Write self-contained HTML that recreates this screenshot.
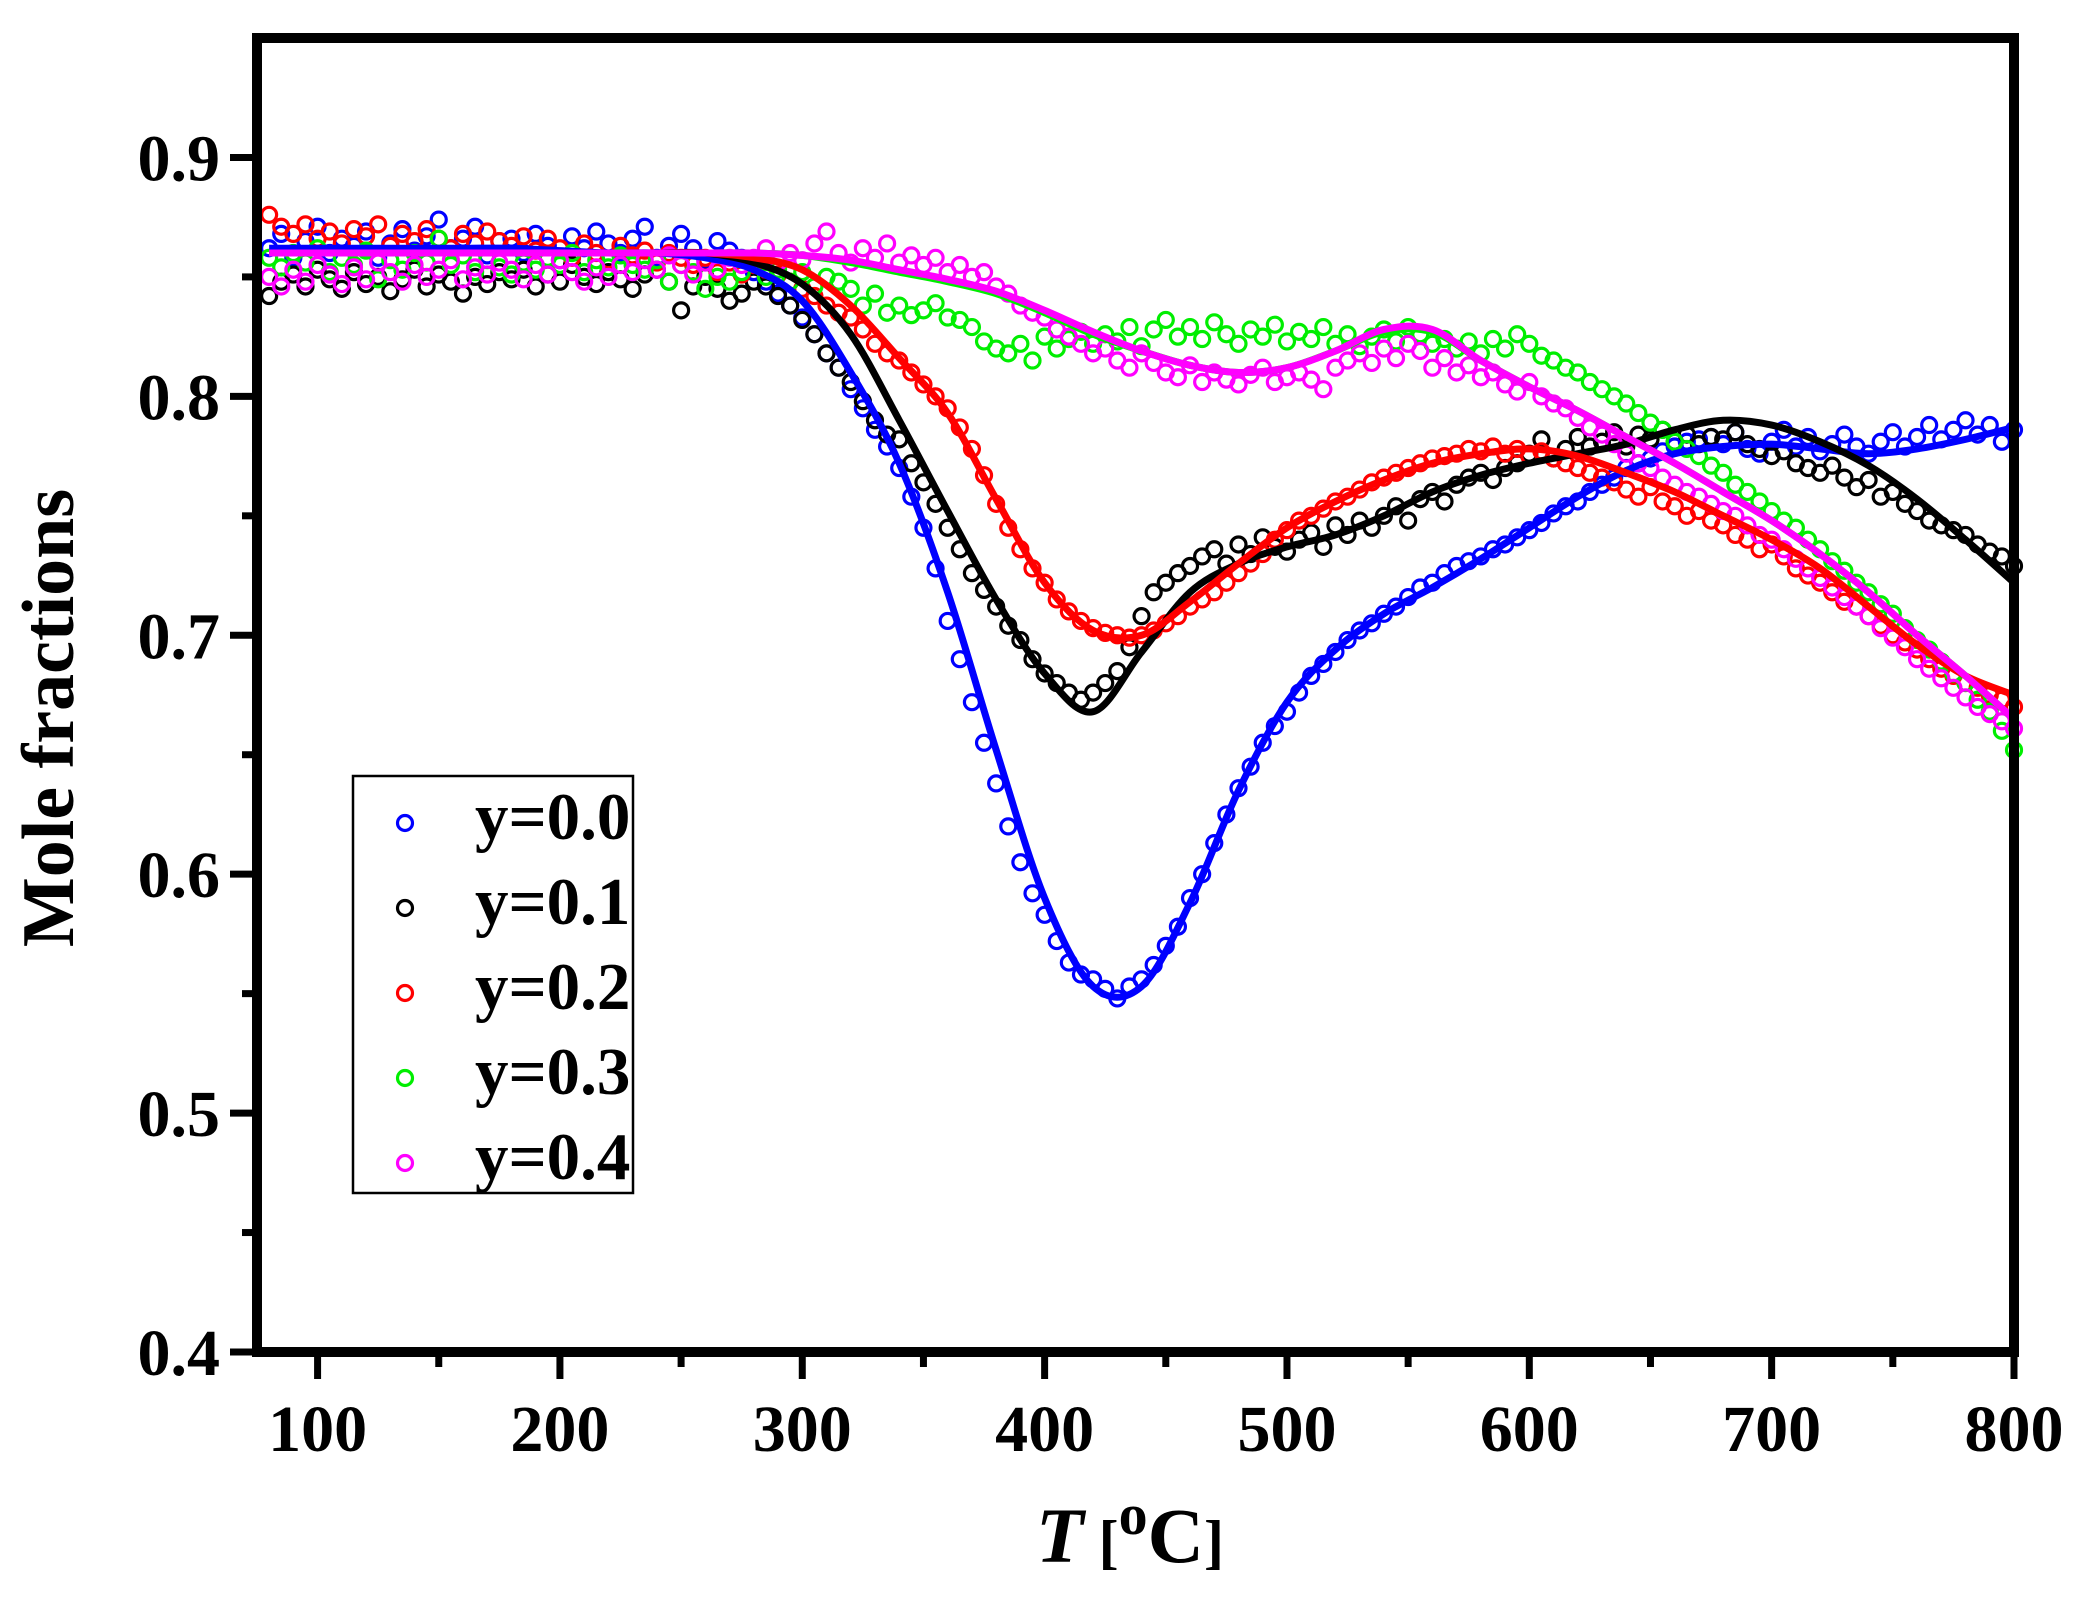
<!DOCTYPE html>
<html><head><meta charset="utf-8"><style>
html,body{margin:0;padding:0;background:#fff}
svg{display:block}
text{font-family:"Liberation Serif",serif;font-weight:bold;fill:#000}
</style></head><body>
<svg id="chart" width="2085" height="1612" viewBox="0 0 2085 1612">
<g id="scatters"></g>
<g id="lines"></g>
<g id="axes"></g>
<g id="legend"></g>
<text x="56" y="718" font-size="74" text-anchor="middle" dominant-baseline="middle" transform="rotate(-90 56 718)">Mole fractions</text>
<text x="1130" y="1562" font-size="78" text-anchor="middle"><tspan font-style="italic">T</tspan><tspan font-size="60"> [</tspan><tspan font-size="58" dy="-28">o</tspan><tspan dy="28">C</tspan><tspan font-size="60">]</tspan></text>
</svg>
<script>
const seriesNames = ["y=0.0","y=0.1","y=0.2","y=0.3","y=0.4"];
const seriesColors = ["#0000ff","#000000","#ff0000","#00ee00","#ff00ff"];
const xTicks = [100,200,300,400,500,600,700,800];
const yTicks = [0.4,0.5,0.6,0.7,0.8,0.9];
const yTickLabels = ["0.4","0.5","0.6","0.7","0.8","0.9"];
// scatter x: 80..800 step 5
const scatterStart = 80, scatterStep = 5;
const scatterBlue = [.862,.868,.858,.865,.871,.860,.866,.863,.869,.858,.864,.870,.861,.867,.874,.862,.866,.871,.859,.865,
.866,.860,.868,.863,.857,.867,.862,.869,.864,.860,.866,.871,.858,.863,.868,.862,.857,.865,.861,.858,
.852,.848,.843,.838,.833,.826,.818,.812,.803,.795,.786,.779,.770,.758,.745,.728,.706,.690,.672,.655,
.638,.620,.605,.592,.583,.572,.563,.558,.556,.552,.548,.553,.556,.562,.570,.578,.590,.600,.613,.625,
.636,.645,.655,.662,.668,.676,.683,.688,.693,.698,.702,.705,.709,.712,.716,.720,.722,.726,.729,.731,
.733,.736,.738,.741,.744,.747,.751,.754,.756,.760,.763,.766,.770,.772,.774,.777,.779,.781,.782,.783,
.780,.785,.778,.776,.781,.786,.779,.783,.777,.780,.784,.779,.776,.781,.785,.779,.783,.788,.782,.786,
.790,.784,.788,.781,.786];
const scatterBlack = [.842,.848,.851,.846,.853,.849,.845,.852,.847,.850,.844,.849,.853,.846,.851,.848,.843,.850,.847,.852,
.849,.853,.846,.851,.848,.855,.850,.847,.852,.849,.845,.851,.853,.848,.836,.846,.850,.845,.840,.843,
.848,.846,.842,.838,.832,.826,.818,.812,.806,.798,.790,.784,.782,.772,.764,.755,.745,.736,.726,.719,
.712,.704,.698,.690,.684,.680,.676,.673,.676,.680,.685,.695,.708,.718,.722,.726,.729,.733,.736,.730,
.738,.734,.741,.737,.735,.740,.743,.737,.746,.742,.748,.745,.750,.754,.748,.757,.760,.756,.763,.766,
.768,.765,.770,.772,.776,.782,.774,.778,.783,.779,.781,.785,.779,.784,.782,.786,.781,.784,.780,.783,
.782,.785,.780,.778,.775,.777,.772,.770,.768,.771,.766,.762,.765,.758,.760,.755,.752,.748,.746,.744,
.742,.738,.735,.733,.729];
const scatterRed = [.876,.871,.868,.872,.866,.869,.864,.870,.867,.872,.863,.868,.865,.870,.866,.862,.868,.864,.869,.865,
.863,.867,.861,.866,.862,.858,.864,.860,.857,.863,.859,.861,.856,.860,.858,.855,.858,.852,.856,.851,
.855,.853,.851,.848,.845,.842,.838,.835,.833,.828,.822,.818,.815,.810,.805,.800,.795,.787,.778,.767,
.755,.745,.736,.728,.722,.715,.710,.706,.703,.701,.700,.699,.700,.702,.705,.708,.712,.715,.718,.722,
.726,.730,.734,.740,.744,.748,.750,.753,.756,.758,.761,.764,.766,.768,.770,.772,.774,.775,.776,.778,
.777,.779,.776,.778,.775,.777,.774,.772,.770,.768,.766,.764,.761,.758,.762,.756,.754,.750,.752,.748,
.746,.742,.740,.736,.738,.733,.728,.725,.722,.718,.714,.712,.708,.704,.700,.697,.694,.690,.686,.683,
.680,.678,.675,.673,.670];
const scatterGreen = [.858,.854,.860,.856,.862,.852,.858,.855,.861,.849,.857,.853,.860,.856,.866,.855,.859,.852,.857,.854,
.851,.856,.853,.858,.855,.860,.852,.857,.854,.859,.855,.853,.857,.848,.855,.852,.845,.850,.848,.852,
.856,.850,.853,.848,.852,.846,.850,.848,.845,.838,.843,.835,.838,.834,.836,.839,.833,.832,.829,.823,
.820,.818,.822,.815,.825,.820,.824,.827,.822,.826,.823,.829,.821,.828,.832,.825,.829,.824,.831,.826,
.822,.828,.825,.830,.823,.827,.824,.829,.822,.826,.821,.825,.828,.823,.829,.826,.822,.824,.820,.823,
.818,.824,.820,.826,.822,.817,.815,.812,.810,.806,.803,.800,.797,.793,.789,.786,.781,.778,.775,.771,
.768,.763,.760,.756,.752,.748,.745,.740,.736,.731,.727,.722,.718,.713,.709,.703,.698,.694,.689,.684,
.680,.673,.668,.660,.652];
const scatterMagenta = [.850,.846,.853,.848,.855,.851,.847,.854,.849,.856,.852,.848,.855,.850,.853,.857,.849,.854,.851,.856,
.853,.849,.855,.851,.857,.852,.848,.854,.850,.855,.852,.857,.853,.859,.855,.851,.856,.853,.858,.855,
.858,.862,.856,.860,.857,.864,.869,.860,.856,.862,.858,.864,.856,.859,.855,.858,.852,.855,.850,.852,
.846,.843,.838,.835,.833,.828,.825,.822,.818,.820,.815,.812,.818,.814,.810,.808,.813,.806,.810,.807,
.805,.809,.812,.806,.808,.810,.807,.803,.812,.815,.818,.814,.820,.816,.822,.819,.812,.816,.810,.813,
.808,.810,.805,.802,.806,.800,.797,.795,.791,.787,.784,.780,.776,.772,.770,.766,.763,.760,.758,.755,
.752,.750,.746,.742,.740,.736,.732,.728,.724,.720,.716,.712,.708,.703,.699,.695,.690,.686,.682,.678,
.674,.670,.667,.664,.661];
// fit lines x: 80..800 step 20
const lineStart = 80, lineStep = 20;
const lineBlue = [.862,.862,.862,.862,.862,.862,.861,.860,.860,.858,.853,.840,.810,.772,.718,.652,.590,.553,.553,.588,.635,.672,.694,.709,.720,.732,.745,.758,.769,.776,.779,.780,.778,.776,.778,.782,.787];
const lineBlack = [.860,.860,.860,.860,.860,.860,.860,.860,.860,.860,.856,.847,.826,.790,.752,.715,.684,.668,.693,.718,.730,.737,.742,.750,.760,.767,.772,.776,.780,.786,.790,.788,.781,.771,.757,.740,.722];
const lineRed = [.860,.860,.860,.860,.860,.860,.860,.860,.860,.860,.858,.853,.838,.816,.793,.757,.722,.702,.700,.714,.730,.745,.756,.765,.772,.776,.778,.775,.768,.760,.750,.740,.728,.712,.696,.683,.675];
const lineGreen = [.860,.860,.860,.860,.860,.860,.860,.860,.860,.860,.860,.859,.856,.852,.848,.843,.835,.826,.819,.813,.810,.812,.819,.827,.827,.815,.804,.794,.783,.772,.760,.748,.734,.718,.700,.683,.665];
const lineMagenta = [.860,.860,.860,.860,.860,.860,.860,.860,.860,.860,.860,.859,.857,.853,.849,.844,.836,.827,.819,.813,.810,.812,.819,.828,.828,.815,.804,.794,.783,.772,.760,.748,.734,.718,.700,.683,.665];

const scatterData = [scatterBlue, scatterBlack, scatterRed, scatterGreen, scatterMagenta];
const lineData = [lineBlue, lineBlack, lineRed, lineGreen, lineMagenta];
const NS = "http://www.w3.org/2000/svg";
const L=257, R=2014, T=38, B=1352, xMin=75, xMax=800, yMin=0.4, yMax=0.95;
const xs = v => L + (v - xMin) / (xMax - xMin) * (R - L);
const ys = v => B - (v - yMin) / (yMax - yMin) * (B - T);
function mk(tag, attrs, parent){ const e=document.createElementNS(NS,tag); for(const k in attrs) e.setAttribute(k,attrs[k]); parent.appendChild(e); return e; }

const gS = document.getElementById('scatters');
scatterData.forEach((arr, si) => {
  const g = mk('g', {fill:'none', stroke:seriesColors[si], 'stroke-width':3.2}, gS);
  
  
  arr.forEach((v, i) => {
    const c = mk('circle', {cx:xs(scatterStart + i*scatterStep), cy:ys(v), r:7.5}, g);
    
    
  });
});

function smoothPath(pts){
  let d = 'M' + pts[0][0] + ',' + pts[0][1];
  for (let i=0;i<pts.length-1;i++){
    const p0=pts[Math.max(0,i-1)], p1=pts[i], p2=pts[i+1], p3=pts[Math.min(pts.length-1,i+2)];
    const c1x=p1[0]+(p2[0]-p0[0])/6, c1y=p1[1]+(p2[1]-p0[1])/6;
    const c2x=p2[0]-(p3[0]-p1[0])/6, c2y=p2[1]-(p3[1]-p1[1])/6;
    d += ' C'+c1x+','+c1y+' '+c2x+','+c2y+' '+p2[0]+','+p2[1];
  }
  return d;
}
const gL = document.getElementById('lines');
lineData.forEach((arr, si) => {
  const pts = arr.map((v,i) => [xs(lineStart + i*lineStep), ys(v)]);
  const p = mk('path', {d:smoothPath(pts), fill:'none', stroke:seriesColors[si], 'stroke-width':7, 'stroke-linejoin':'round'}, gL);
  
  
});

const gA = document.getElementById('axes');
const frame = mk('rect', {x:L, y:T, width:R-L, height:B-T, fill:'none', stroke:'#000', 'stroke-width':10}, gA);


for (let v=100; v<=800; v+=50){
  const major = v % 100 === 0;
  const t = mk('line', {x1:xs(v), x2:xs(v), y1:B, y2:B+(major?27:15), stroke:'#000', 'stroke-width':7}, gA);
  
  
}
xTicks.forEach(v => {
  const t = mk('text', {x:xs(v), y:1451, 'font-size':66, 'text-anchor':'middle'}, gA);
  t.textContent = v;
  
  
});
for (let k=0; k<=10; k++){
  const v = 0.4 + k*0.05;
  const major = k % 2 === 0;
  const t = mk('line', {x1:L-(major?27:15), x2:L, y1:ys(v), y2:ys(v), stroke:'#000', 'stroke-width':7}, gA);
  
  
}
yTicks.forEach((v,i) => {
  const t = mk('text', {x:220, y:ys(v)+23, 'font-size':66, 'text-anchor':'end'}, gA);
  t.textContent = yTickLabels[i];
  
  
});

const gLeg = document.getElementById('legend');
const box = mk('rect', {x:353, y:776, width:280, height:417, fill:'#fff', stroke:'#000', 'stroke-width':2.5}, gLeg);


seriesNames.forEach((n, i) => {
  const cy = 823 + i*85;
  const c = mk('circle', {cx:405, cy:cy, r:7.5, fill:'none', stroke:seriesColors[i], 'stroke-width':3.2}, gLeg);
  
  
  const t = mk('text', {x:475, y:cy+16, 'font-size':67}, gLeg);
  t.textContent = n;
  
  
});
</script>
</body></html>
